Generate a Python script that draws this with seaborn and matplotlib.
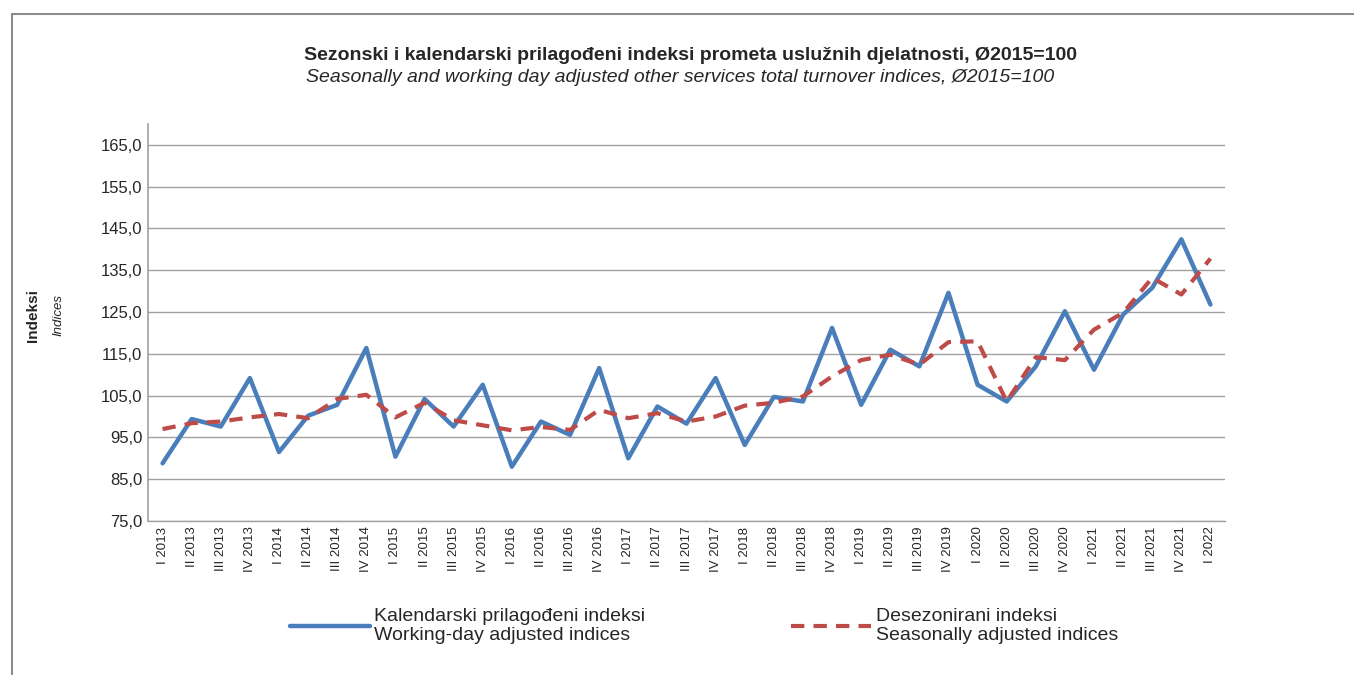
import numpy as np
import pandas as pd
import matplotlib
matplotlib.use("Agg")
import matplotlib.pyplot as plt
from matplotlib.lines import Line2D
import seaborn as sns

# ── Data ──────────────────────────────────────────────────────────────────────
quarters = ["I", "II", "III", "IV"]
periods = [f"{q} {y}" for y in range(2013, 2022) for q in quarters] + ["I 2022"]

working_day = [
    88.8, 99.4, 97.6, 109.2, 91.5, 100.2, 102.8, 116.4, 90.4, 104.2,
    97.6, 107.6, 88.0, 98.8, 95.6, 111.6, 90.0, 102.4, 98.3, 109.2,
    93.2, 104.7, 103.6, 121.2, 102.8, 116.0, 112.0, 129.6, 107.6, 103.6,
    112.0, 125.2, 111.2, 124.4, 130.8, 142.4, 126.8,
]
seasonal = [
    97.0, 98.4, 98.8, 99.8, 100.6, 99.6, 104.2, 105.2, 99.8, 103.3,
    99.1, 97.9, 96.7, 97.5, 96.8, 101.6, 99.6, 100.8, 98.8, 100.0,
    102.6, 103.3, 104.8, 109.6, 113.5, 114.8, 112.4, 117.8, 118.0, 103.6,
    114.2, 113.5, 120.8, 124.8, 133.2, 129.2, 137.8,
]
y_ticks = np.arange(75, 166, 10)

label_wd = "Kalendarski prilagođeni indeksi\nWorking-day adjusted indices"
label_sa = "Desezonirani indeksi\nSeasonally adjusted indices"

df = pd.DataFrame({
    "pos": np.arange(len(periods)),
    "wd": working_day,
    "sa": seasonal,
})

# ── Figure ────────────────────────────────────────────────────────────────────
sns.set_style("white")
plt.rcParams["font.family"] = ["Liberation Sans", "DejaVu Sans"]

fig = plt.figure(figsize=(13.54, 6.75), dpi=100)
ax = fig.add_axes([148 / 1354, 1 - 521 / 675, (1225 - 148) / 1354, (521 - 124) / 675])

sns.lineplot(data=df, x="pos", y="wd", ax=ax, color="#4A7EBB", lw=3.2,
             label=label_wd)
sns.lineplot(data=df, x="pos", y="sa", ax=ax, color="#BE4B48", lw=3.0,
             linestyle=(0, (3.2, 2.2)), label=label_sa)

ax.set_ylim(75, 170)
ax.set_xlim(-0.5, len(periods) - 0.5)
ax.set_yticks(y_ticks)
ax.set_yticklabels([f"{v:.1f}".replace(".", ",") for v in y_ticks], fontsize=12)
ax.set_xticks(df["pos"])
ax.set_xticklabels(periods, rotation=90, fontsize=9.5)
ax.tick_params(axis="both", length=0, pad=4)
ax.yaxis.grid(True, color="#A0A0A0", lw=1)
ax.set_axisbelow(True)
ax.set_xlabel("")
ax.set_ylabel("")
for side in ["top", "right"]:
    ax.spines[side].set_visible(False)
ax.spines["left"].set_color("#A0A0A0")
ax.spines["left"].set_linewidth(1.2)
ax.spines["bottom"].set_color("#A0A0A0")
ax.spines["bottom"].set_linewidth(1.0)

handles, labels = ax.get_legend_handles_labels()
ax.get_legend().remove()
fig.legend(handles, labels, loc="center", bbox_to_anchor=(704 / 1354, 1 - 626 / 675),
           ncol=2, frameon=False, fontsize=14, handlelength=4.1,
           columnspacing=7.5, handletextpad=0.25, labelspacing=0.2)

# ── Titles / labels ───────────────────────────────────────────────────────────
fig.text(690 / 1354, 1 - 56 / 675,
         "Sezonski i kalendarski prilagođeni indeksi prometa uslužnih djelatnosti, Ø2015=100",
         ha="center", va="center", fontsize=14, fontweight="bold")
fig.text(680 / 1354, 1 - 77 / 675,
         "Seasonally and working day adjusted other services total turnover indices, Ø2015=100",
         ha="center", va="center", fontsize=14, style="italic")
fig.text(33 / 1354, 1 - 315 / 675, "Indeksi", rotation=90, ha="center", va="center",
         fontsize=11, fontweight="bold")
fig.text(58 / 1354, 1 - 315 / 675, "Indices", rotation=90, ha="center", va="center",
         fontsize=9.5, style="italic")

# frame around the chart area
fig.add_artist(Line2D([12 / 1354, 1], [1 - 14 / 675, 1 - 14 / 675],
                      transform=fig.transFigure, color="#8C8C8C", lw=1.5))
fig.add_artist(Line2D([12 / 1354, 12 / 1354], [0, 1 - 14 / 675],
                      transform=fig.transFigure, color="#8C8C8C", lw=1.5))

fig.savefig("out.png", dpi=100)
plt.close(fig)
